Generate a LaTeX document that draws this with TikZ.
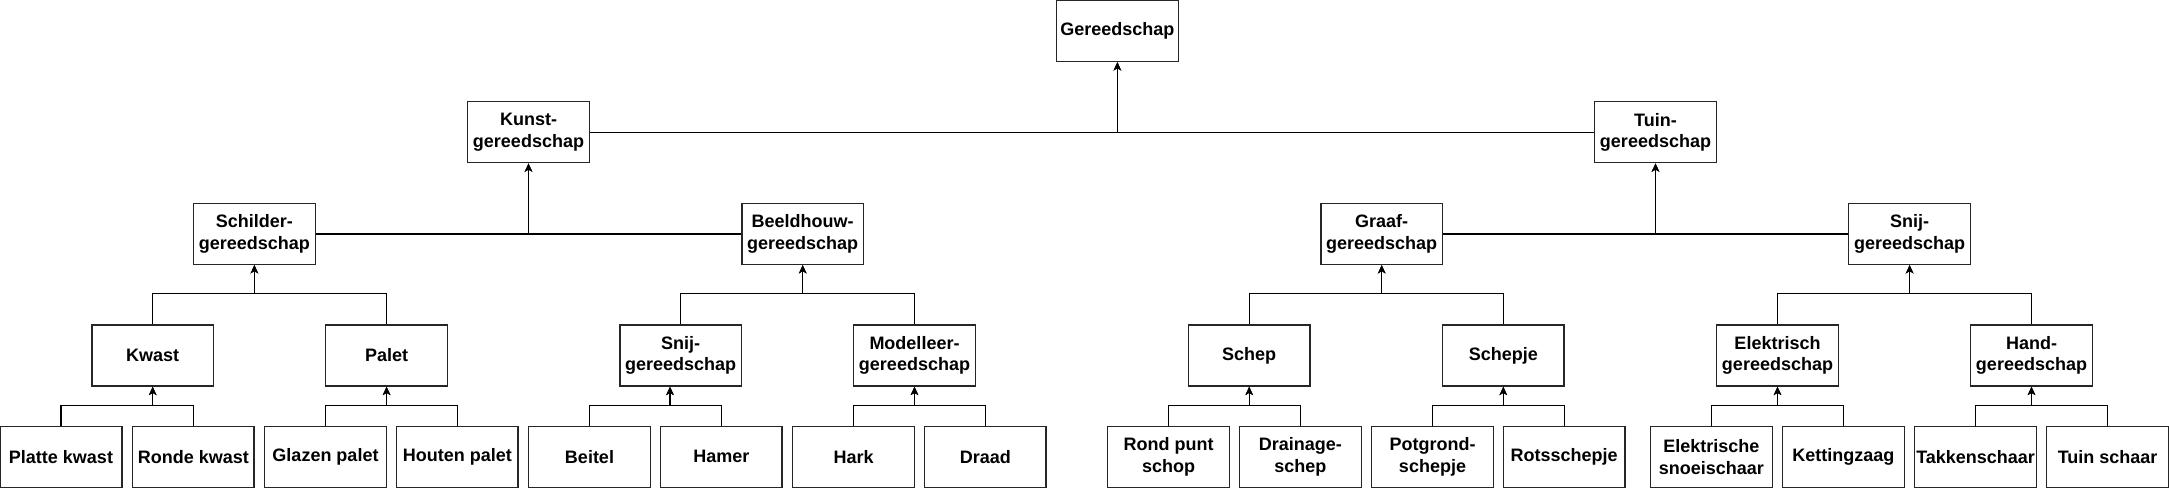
\documentclass[tikz,border=0pt]{standalone}
\usepackage{fontspec}
\setmainfont{Liberation Sans}
\usetikzlibrary{arrows.meta,calc}
\begin{document}
\begin{tikzpicture}[x={(0.5pt,0)},y={(0,-0.5pt)},
  box/.style={draw=black!85,line width=0.7pt,minimum width=60.85pt,minimum height=30.5pt,inner sep=0pt,align=center,
    font=\fontsize{9pt}{10.8pt}\selectfont\bfseries},
  conn/.style={draw=black,line width=0.7pt,-{Stealth[length=4.2pt,width=3.8pt,inset=1.1pt]}}]
\useasboundingbox (0,0) rectangle (2169,489);
% top
\node[box] (G) at (1117.4,30.9) {Gereedschap};
% level 1
\node[box] (K) at (528.5,132.2) {Kunst-\\gereedschap};
\node[box] (T) at (1655.5,132.2) {Tuin-\\gereedschap};
% level 2
\node[box] (S) at (254.4,233.8) {Schilder-\\gereedschap};
\node[box] (B) at (802.7,233.8) {Beeldhouw-\\gereedschap};
\node[box] (Gr) at (1381.7,233.8) {Graaf-\\gereedschap};
\node[box] (ST) at (1909.6,233.8) {Snij-\\gereedschap};
% level 3
\node[box] (Kw) at (152.7,355.5) {Kwast};
\node[box] (P) at (386.6,355.5) {Palet};
\node[box] (SB) at (680.7,355.5) {Snij-\\gereedschap};
\node[box] (M) at (914.5,355.5) {Modelleer-\\gereedschap};
\node[box] (Sc) at (1249.2,355.5) {Schep};
\node[box] (Sj) at (1503.3,355.5) {Schepje};
\node[box] (E) at (1777.5,355.5) {Elektrisch\\gereedschap};
\node[box] (H) at (2031.5,355.5) {Hand-\\gereedschap};
% leaves
\node[box] (L1) at (61,456.8) {Platte kwast};
\node[box] (L2) at (193.3,456.8) {Ronde kwast};
\node[box] (L3) at (325.5,456.8) {Glazen palet};
\node[box] (L4) at (457.3,456.8) {Houten palet};
\node[box] (L5) at (589.5,456.8) {Beitel};
\node[box] (L6) at (721.3,456.8) {Hamer};
\node[box] (L7) at (853.6,456.8) {Hark};
\node[box] (L8) at (985.3,456.8) {Draad};
\node[box] (L9) at (1168.6,456.8) {Rond punt\\schop};
\node[box] (L10) at (1300.4,456.8) {Drainage-\\schep};
\node[box] (L11) at (1432.5,456.8) {Potgrond-\\schepje};
\node[box] (L12) at (1564.2,456.8) {Rotsschepje};
\node[box] (L13) at (1711.4,456.8) {Elektrische\\snoeischaar};
\node[box] (L14) at (1843.4,456.8) {Kettingzaag};
\node[box] (L15) at (1975.6,456.8) {Takkenschaar};
\node[box] (L16) at (2107.6,456.8) {Tuin schaar};
\coordinate (sbin) at ($(SB.south)+(-10.7,0)$);
% leaves -> level 3
\draw[conn] (L1.north) -- ++(0,-20) -| (Kw.south);
\draw[conn] (L2.north) -- ++(0,-20) -| (Kw.south);
\draw[conn] (L3.north) -- ++(0,-20) -| (P.south);
\draw[conn] (L4.north) -- ++(0,-20) -| (P.south);
\draw[conn] (L5.north) -- ++(0,-20) -| (sbin);
\draw[conn] (L6.north) -- ++(0,-20) -| (sbin);
\draw[conn] (L7.north) -- ++(0,-20) -| (M.south);
\draw[conn] (L8.north) -- ++(0,-20) -| (M.south);
\draw[conn] (L9.north) -- ++(0,-20) -| (Sc.south);
\draw[conn] (L10.north) -- ++(0,-20) -| (Sc.south);
\draw[conn] (L11.north) -- ++(0,-20) -| (Sj.south);
\draw[conn] (L12.north) -- ++(0,-20) -| (Sj.south);
\draw[conn] (L13.north) -- ++(0,-20) -| (E.south);
\draw[conn] (L14.north) -- ++(0,-20) -| (E.south);
\draw[conn] (L15.north) -- ++(0,-20) -| (H.south);
\draw[conn] (L16.north) -- ++(0,-20) -| (H.south);
% level 3 -> level 2
\draw[conn] (Kw.north) -- ++(0,-30.7) -| (S.south);
\draw[conn] (P.north) -- ++(0,-30.7) -| (S.south);
\draw[conn] (SB.north) -- ++(0,-30.7) -| (B.south);
\draw[conn] (M.north) -- ++(0,-30.7) -| (B.south);
\draw[conn] (Sc.north) -- ++(0,-30.7) -| (Gr.south);
\draw[conn] (Sj.north) -- ++(0,-30.7) -| (Gr.south);
\draw[conn] (E.north) -- ++(0,-30.7) -| (ST.south);
\draw[conn] (H.north) -- ++(0,-30.7) -| (ST.south);
% level 2 -> level 1
\draw[conn] (S.east) -| (K.south);
\draw[conn] (B.west) -| (K.south);
\draw[conn] (Gr.east) -| (T.south);
\draw[conn] (ST.west) -| (T.south);
% level 1 -> top
\draw[conn] (K.east) -| (G.south);
\draw[conn] (T.west) -| (G.south);
\end{tikzpicture}
\end{document}
